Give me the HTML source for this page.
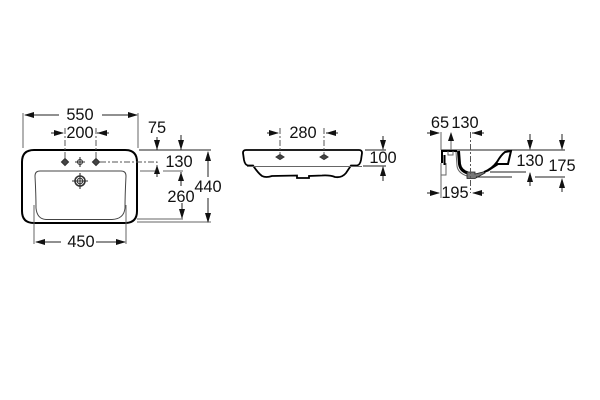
<!DOCTYPE html>
<html><head><meta charset="utf-8"><style>
html,body{margin:0;padding:0;background:#fff}
svg{display:block;filter:blur(.3px)}
text{font-family:"Liberation Sans",sans-serif;font-size:16.4px;fill:#111;text-anchor:middle}
.d{stroke:#222;stroke-width:1;fill:none}
.g{stroke:#666;stroke-width:1;fill:none}
.t{stroke:#000;stroke-width:2;fill:none}
.m{stroke:#333;stroke-width:1.1;fill:none}
.dd{stroke:#555;stroke-width:1;fill:none;stroke-dasharray:6 2 2 2}
.a{fill:#111;stroke:none}
</style></head><body>
<svg width="600" height="400" viewBox="0 0 600 400" xmlns="http://www.w3.org/2000/svg">
<!-- Top view -->
<path class="t" d="M22 162Q22 150 34 150H125Q137 150 137 162V211Q137 223 125 223H34Q22 223 22 211Z"/>
<path class="g" style="stroke:#444" d="M35 176Q35 171 40 171H121Q126 171 126 176Q125 195 125 208Q124 219 112 219.5H46Q37 219 36 208Q36 195 35 176Z"/>
<path class="g" d="M23 113V148M138 113V148M34 205V244M126 205V244M140 171H155M163 171H183M137 219H183M137 222H211"/>
<path class="d" d="M139 150H211"/>
<path class="d" d="M25 115H59M102 115H137M51 133H63M97 133H109M36 242H61M96 242H125"/>
<path class="a" d="M24 115l10-3v6zM138 115l-10-3v6zM64 133l-10-3v6zM97 133l10-3v6zM35 242l10-3v6zM126 242l-10-3v6z"/>
<path class="dd" d="M65 128V158M96 128V158M100 162H157V167"/>
<g class="m">
<path d="M65 158.5l3.5 3.5-3.5 3.5-3.5-3.5z" fill="#444"/>
<circle cx="80" cy="162" r="2.5"/><path d="M75 162h10M80 157v10"/>
<path d="M96 158.5l3.5 3.5-3.5 3.5-3.5-3.5z" fill="#444"/>
<circle cx="80" cy="181" r="5" style="stroke-width:1.6"/><circle cx="80" cy="181" r="2.8"/><path d="M72 181h16M80 173v16"/>
</g>
<path class="d" d="M157 137V150M181 135V150M157 172V177M181 172V186M208 152V177M208 198V222M182 203V218"/>
<path class="a" d="M157 150l-3-10h6zM181 150l-3-10h6zM157 165l-3 9h6zM181 172l-3 9h6zM208 151l-3 10h6zM208 223l-3-10h6zM182 219l-3-10h6z"/>
<text x="80" y="120">550</text><text x="80" y="138">200</text>
<text x="157" y="133">75</text><text x="179" y="167">130</text>
<text x="181" y="202">260</text><text x="208" y="192">440</text><text x="81" y="247">450</text>
<!-- Front view -->
<path class="t" style="stroke-width:1.8" d="M253 165.5H248Q245 165 244 160L243 153Q243 150 246 150H359Q362 150 362 153L361 160Q360 165 357 165.5H351L346 173Q342 178 335 177Q330 175 322 175.5L309 176V178H297V175.5L272 176Q266 178 262 176Q258 173 253 165.5Z"/>
<path class="g" d="M247 166.5H362"/>
<path class="d" d="M365 150H386M363 166H386M267 133H278M326 133H338M383 136V149M383 167V181"/>
<path class="a" d="M279 133l-10-3v6zM326 133l10-3v6zM383 150l-3-10h6zM383 166l-3 10h6z"/>
<path class="dd" d="M280 128V154M324 128V154"/>
<path d="M276 157l4-2.5 4 2.5-4 2.5zM320 157l4-2.5 4 2.5-4 2.5z" fill="#444" stroke="#333"/>
<text x="303" y="138">280</text><text x="383" y="163">100</text>
<!-- Side view -->
<path class="d" d="M441 150H565M427 133H439M472 133H484M427 193H439M473 193H484"/>
<path class="g" d="M441 132V150M441 163V198M451 133V150"/>
<path class="t" d="M457 151H442V163M444.5 155V165"/>
<path class="g" d="M446 163V175H441M448 151V155H453V151"/>
<path class="t" style="stroke-width:3" d="M458.5 151L459.5 164Q460.5 171 468 173"/>
<path class="g" d="M456 152L457 166Q458 173 467 176"/>
<path d="M467 172H475V174L485 171.5V173L475 178.5H467Z" fill="#777" stroke="#222" stroke-width=".8"/>
<path class="t" d="M484 172Q492 169 497 162Q501 155 505 152L511 151L508 164H498L488 170.5Z"/>
<path class="dd" d="M470.5 132V193"/>
<path class="d" d="M490 172H526M476 177H512M535 177H565M530 134V149M562 134V149M530 173V186M562 181V192"/>
<path class="a" d="M440 133l-10-3v6zM472 133l10-3v6zM451 132l-3 9h6zM440 193l-10-3v6zM472 193l10-3v6zM530 150l-3-10h6zM562 150l-3-10h6zM530 172l-3 10h6zM562 178l-3 10h6z"/>
<text x="440" y="128">65</text><text x="465" y="128">130</text><text x="455" y="198">195</text>
<text x="530" y="166">130</text><text x="562" y="171">175</text>
</svg>
</body></html>
